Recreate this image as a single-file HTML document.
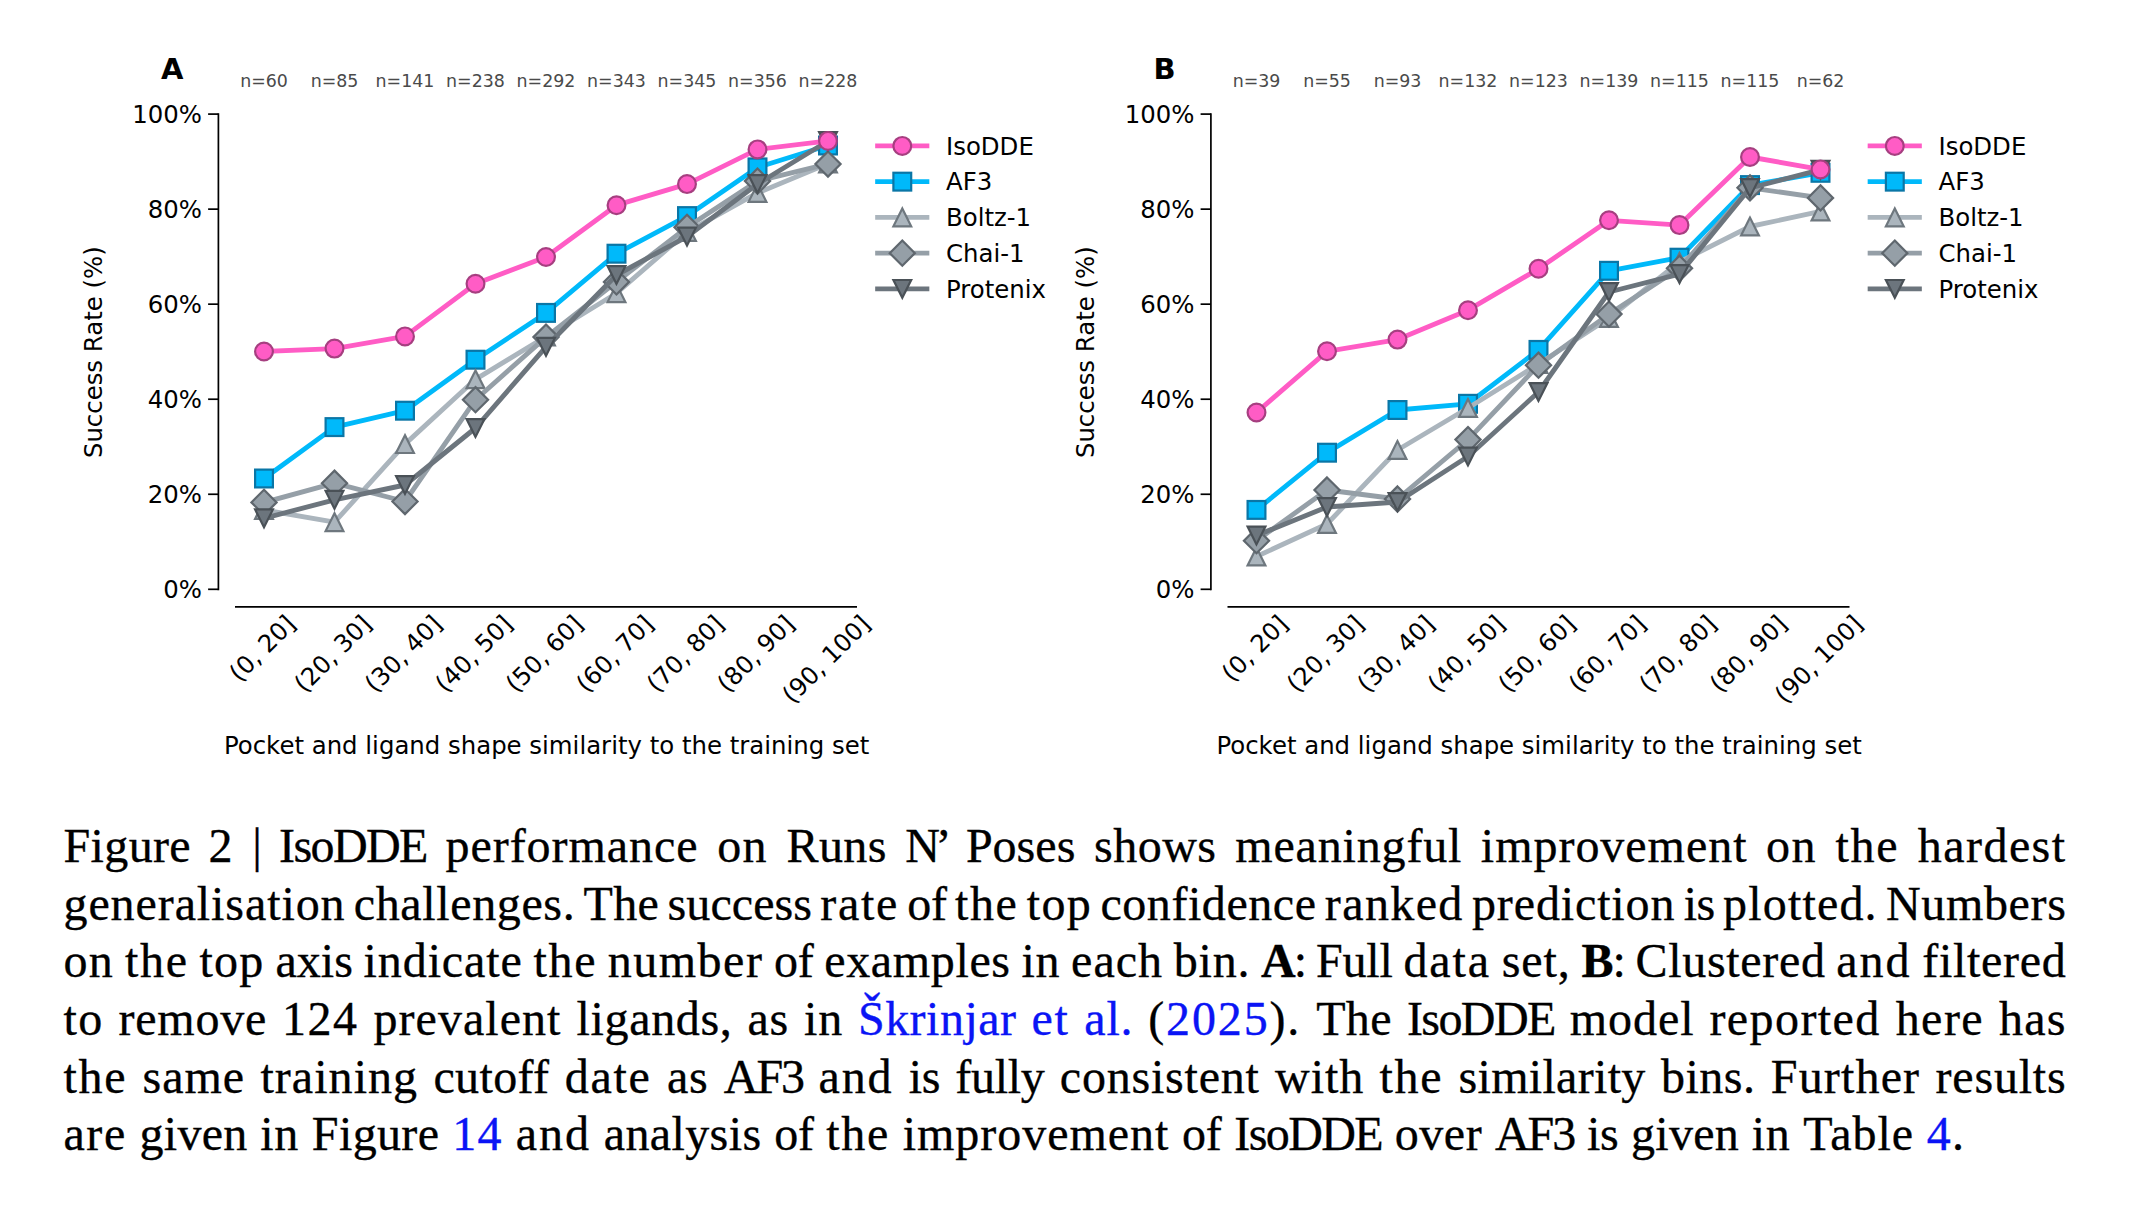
<!DOCTYPE html>
<html><head><meta charset="utf-8"><title>Figure 2</title>
<style>
html,body{margin:0;padding:0;background:#fff;}
body{width:2140px;height:1208px;position:relative;overflow:hidden;}
svg{position:absolute;left:0;top:0;}
.tl{font-family:'DejaVu Sans', 'Liberation Sans', sans-serif;font-size:24.4px;fill:#000;}
.nl{font-family:'DejaVu Sans', 'Liberation Sans', sans-serif;font-size:17.4px;fill:#4a4a4a;}
.pl{font-family:'DejaVu Sans', 'Liberation Sans', sans-serif;font-size:29px;font-weight:bold;fill:#000;}
.cl{position:absolute;left:0;width:2140px;height:0;font-family:'Liberation Serif',serif;font-size:48px;
 line-height:0;color:#000;-webkit-text-stroke:0.35px currentColor;white-space:pre;}
.cl>span{position:absolute;top:0;}
.lk{color:#0a14f5;}
b{font-weight:bold;}
</style></head>
<body>
<svg width="2140" height="800" viewBox="0 0 2140 800">
<line x1="218.4" y1="114.1" x2="218.4" y2="589.3" stroke="#000" stroke-width="1.7" stroke-linecap="square"/>
<line x1="235" y1="606.8" x2="857" y2="606.8" stroke="#000" stroke-width="1.7"/>
<line x1="208.1" y1="589.3" x2="218.4" y2="589.3" stroke="#000" stroke-width="1.7"/>
<text x="201.9" y="598.2" text-anchor="end" class="tl">0%</text>
<line x1="208.1" y1="494.26" x2="218.4" y2="494.26" stroke="#000" stroke-width="1.7"/>
<text x="201.9" y="503.16" text-anchor="end" class="tl">20%</text>
<line x1="208.1" y1="399.22" x2="218.4" y2="399.22" stroke="#000" stroke-width="1.7"/>
<text x="201.9" y="408.12" text-anchor="end" class="tl">40%</text>
<line x1="208.1" y1="304.18" x2="218.4" y2="304.18" stroke="#000" stroke-width="1.7"/>
<text x="201.9" y="313.08" text-anchor="end" class="tl">60%</text>
<line x1="208.1" y1="209.14" x2="218.4" y2="209.14" stroke="#000" stroke-width="1.7"/>
<text x="201.9" y="218.04" text-anchor="end" class="tl">80%</text>
<line x1="208.1" y1="114.1" x2="218.4" y2="114.1" stroke="#000" stroke-width="1.7"/>
<text x="201.9" y="123" text-anchor="end" class="tl">100%</text>
<text x="0" y="0" text-anchor="middle" class="tl" transform="translate(101.8 352.2) rotate(-90)">Success Rate (%)</text>
<text x="546.6" y="753.5" text-anchor="middle" class="tl">Pocket and ligand shape similarity to the training set</text>
<text x="161" y="78.6" class="pl">A</text>
<text x="264" y="86.6" text-anchor="middle" class="nl">n=60</text>
<text x="334.5" y="86.6" text-anchor="middle" class="nl">n=85</text>
<text x="405" y="86.6" text-anchor="middle" class="nl">n=141</text>
<text x="475.5" y="86.6" text-anchor="middle" class="nl">n=238</text>
<text x="546" y="86.6" text-anchor="middle" class="nl">n=292</text>
<text x="616.5" y="86.6" text-anchor="middle" class="nl">n=343</text>
<text x="687" y="86.6" text-anchor="middle" class="nl">n=345</text>
<text x="757.5" y="86.6" text-anchor="middle" class="nl">n=356</text>
<text x="828" y="86.6" text-anchor="middle" class="nl">n=228</text>
<text x="262" y="656.8" text-anchor="middle" class="tl" transform="rotate(-45 262 648.02)">(0, 20]</text>
<text x="332.5" y="662.29" text-anchor="middle" class="tl" transform="rotate(-45 332.5 653.5)">(20, 30]</text>
<text x="403" y="662.29" text-anchor="middle" class="tl" transform="rotate(-45 403 653.5)">(30, 40]</text>
<text x="473.5" y="662.29" text-anchor="middle" class="tl" transform="rotate(-45 473.5 653.5)">(40, 50]</text>
<text x="544" y="662.29" text-anchor="middle" class="tl" transform="rotate(-45 544 653.5)">(50, 60]</text>
<text x="614.5" y="662.29" text-anchor="middle" class="tl" transform="rotate(-45 614.5 653.5)">(60, 70]</text>
<text x="685" y="662.29" text-anchor="middle" class="tl" transform="rotate(-45 685 653.5)">(70, 80]</text>
<text x="755.5" y="662.29" text-anchor="middle" class="tl" transform="rotate(-45 755.5 653.5)">(80, 90]</text>
<text x="826" y="667.77" text-anchor="middle" class="tl" transform="rotate(-45 826 658.99)">(90, 100]</text>
<polyline points="264,478.5 334.5,427.1 405,410.7 475.5,359.7 546,312.9 616.5,253.7 687,216.1 757.5,167.4 828,145.5" fill="none" stroke="#00B9FA" stroke-width="4.86" stroke-linejoin="round" stroke-linecap="square"/>
<rect x="255.1" y="469.6" width="17.8" height="17.8" fill="#00B9FA" stroke="#0A76A6" stroke-width="2.2"/>
<rect x="325.6" y="418.2" width="17.8" height="17.8" fill="#00B9FA" stroke="#0A76A6" stroke-width="2.2"/>
<rect x="396.1" y="401.8" width="17.8" height="17.8" fill="#00B9FA" stroke="#0A76A6" stroke-width="2.2"/>
<rect x="466.6" y="350.8" width="17.8" height="17.8" fill="#00B9FA" stroke="#0A76A6" stroke-width="2.2"/>
<rect x="537.1" y="304" width="17.8" height="17.8" fill="#00B9FA" stroke="#0A76A6" stroke-width="2.2"/>
<rect x="607.6" y="244.8" width="17.8" height="17.8" fill="#00B9FA" stroke="#0A76A6" stroke-width="2.2"/>
<rect x="678.1" y="207.2" width="17.8" height="17.8" fill="#00B9FA" stroke="#0A76A6" stroke-width="2.2"/>
<rect x="748.6" y="158.5" width="17.8" height="17.8" fill="#00B9FA" stroke="#0A76A6" stroke-width="2.2"/>
<rect x="819.1" y="136.6" width="17.8" height="17.8" fill="#00B9FA" stroke="#0A76A6" stroke-width="2.2"/>
<polyline points="264,509.9 334.5,522.2 405,444.1 475.5,379.3 546,336.5 616.5,293.2 687,232 757.5,192.9 828,163.6" fill="none" stroke="#ABB5BD" stroke-width="4.86" stroke-linejoin="round" stroke-linecap="square"/>
<polygon points="264,501 255.1,518.8 272.9,518.8" fill="#ABB5BD" stroke="#6E777E" stroke-width="2.2" stroke-linejoin="miter" stroke-miterlimit="10"/>
<polygon points="334.5,513.3 325.6,531.1 343.4,531.1" fill="#ABB5BD" stroke="#6E777E" stroke-width="2.2" stroke-linejoin="miter" stroke-miterlimit="10"/>
<polygon points="405,435.2 396.1,453 413.9,453" fill="#ABB5BD" stroke="#6E777E" stroke-width="2.2" stroke-linejoin="miter" stroke-miterlimit="10"/>
<polygon points="475.5,370.4 466.6,388.2 484.4,388.2" fill="#ABB5BD" stroke="#6E777E" stroke-width="2.2" stroke-linejoin="miter" stroke-miterlimit="10"/>
<polygon points="546,327.6 537.1,345.4 554.9,345.4" fill="#ABB5BD" stroke="#6E777E" stroke-width="2.2" stroke-linejoin="miter" stroke-miterlimit="10"/>
<polygon points="616.5,284.3 607.6,302.1 625.4,302.1" fill="#ABB5BD" stroke="#6E777E" stroke-width="2.2" stroke-linejoin="miter" stroke-miterlimit="10"/>
<polygon points="687,223.1 678.1,240.9 695.9,240.9" fill="#ABB5BD" stroke="#6E777E" stroke-width="2.2" stroke-linejoin="miter" stroke-miterlimit="10"/>
<polygon points="757.5,184 748.6,201.8 766.4,201.8" fill="#ABB5BD" stroke="#6E777E" stroke-width="2.2" stroke-linejoin="miter" stroke-miterlimit="10"/>
<polygon points="828,154.7 819.1,172.5 836.9,172.5" fill="#ABB5BD" stroke="#6E777E" stroke-width="2.2" stroke-linejoin="miter" stroke-miterlimit="10"/>
<polyline points="264,502.4 334.5,483.2 405,501.5 475.5,399.7 546,337.1 616.5,281.9 687,227.3 757.5,181.1 828,164" fill="none" stroke="#959FA7" stroke-width="4.86" stroke-linejoin="round" stroke-linecap="square"/>
<polygon points="264,489.81 276.59,502.4 264,514.99 251.41,502.4" fill="#959FA7" stroke="#5F676E" stroke-width="2.2" stroke-linejoin="miter" stroke-miterlimit="10"/>
<polygon points="334.5,470.61 347.09,483.2 334.5,495.79 321.91,483.2" fill="#959FA7" stroke="#5F676E" stroke-width="2.2" stroke-linejoin="miter" stroke-miterlimit="10"/>
<polygon points="405,488.91 417.59,501.5 405,514.09 392.41,501.5" fill="#959FA7" stroke="#5F676E" stroke-width="2.2" stroke-linejoin="miter" stroke-miterlimit="10"/>
<polygon points="475.5,387.11 488.09,399.7 475.5,412.29 462.91,399.7" fill="#959FA7" stroke="#5F676E" stroke-width="2.2" stroke-linejoin="miter" stroke-miterlimit="10"/>
<polygon points="546,324.51 558.59,337.1 546,349.69 533.41,337.1" fill="#959FA7" stroke="#5F676E" stroke-width="2.2" stroke-linejoin="miter" stroke-miterlimit="10"/>
<polygon points="616.5,269.31 629.09,281.9 616.5,294.49 603.91,281.9" fill="#959FA7" stroke="#5F676E" stroke-width="2.2" stroke-linejoin="miter" stroke-miterlimit="10"/>
<polygon points="687,214.71 699.59,227.3 687,239.89 674.41,227.3" fill="#959FA7" stroke="#5F676E" stroke-width="2.2" stroke-linejoin="miter" stroke-miterlimit="10"/>
<polygon points="757.5,168.51 770.09,181.1 757.5,193.69 744.91,181.1" fill="#959FA7" stroke="#5F676E" stroke-width="2.2" stroke-linejoin="miter" stroke-miterlimit="10"/>
<polygon points="828,151.41 840.59,164 828,176.59 815.41,164" fill="#959FA7" stroke="#5F676E" stroke-width="2.2" stroke-linejoin="miter" stroke-miterlimit="10"/>
<polyline points="264,518.3 334.5,499.8 405,485 475.5,428 546,346.8 616.5,275 687,236.6 757.5,184 828,141" fill="none" stroke="#6C757D" stroke-width="4.86" stroke-linejoin="round" stroke-linecap="square"/>
<polygon points="264,527.2 255.1,509.4 272.9,509.4" fill="#6C757D" stroke="#4A5157" stroke-width="2.2" stroke-linejoin="miter" stroke-miterlimit="10"/>
<polygon points="334.5,508.7 325.6,490.9 343.4,490.9" fill="#6C757D" stroke="#4A5157" stroke-width="2.2" stroke-linejoin="miter" stroke-miterlimit="10"/>
<polygon points="405,493.9 396.1,476.1 413.9,476.1" fill="#6C757D" stroke="#4A5157" stroke-width="2.2" stroke-linejoin="miter" stroke-miterlimit="10"/>
<polygon points="475.5,436.9 466.6,419.1 484.4,419.1" fill="#6C757D" stroke="#4A5157" stroke-width="2.2" stroke-linejoin="miter" stroke-miterlimit="10"/>
<polygon points="546,355.7 537.1,337.9 554.9,337.9" fill="#6C757D" stroke="#4A5157" stroke-width="2.2" stroke-linejoin="miter" stroke-miterlimit="10"/>
<polygon points="616.5,283.9 607.6,266.1 625.4,266.1" fill="#6C757D" stroke="#4A5157" stroke-width="2.2" stroke-linejoin="miter" stroke-miterlimit="10"/>
<polygon points="687,245.5 678.1,227.7 695.9,227.7" fill="#6C757D" stroke="#4A5157" stroke-width="2.2" stroke-linejoin="miter" stroke-miterlimit="10"/>
<polygon points="757.5,192.9 748.6,175.1 766.4,175.1" fill="#6C757D" stroke="#4A5157" stroke-width="2.2" stroke-linejoin="miter" stroke-miterlimit="10"/>
<polygon points="828,149.9 819.1,132.1 836.9,132.1" fill="#6C757D" stroke="#4A5157" stroke-width="2.2" stroke-linejoin="miter" stroke-miterlimit="10"/>
<polyline points="264,351.5 334.5,348.6 405,336.4 475.5,283.7 546,257 616.5,205.2 687,184.1 757.5,149.4 828,140.9" fill="none" stroke="#FF5CC5" stroke-width="4.86" stroke-linejoin="round" stroke-linecap="square"/>
<circle cx="264" cy="351.5" r="8.9" fill="#FF5CC5" stroke="#A63F80" stroke-width="2.2"/>
<circle cx="334.5" cy="348.6" r="8.9" fill="#FF5CC5" stroke="#A63F80" stroke-width="2.2"/>
<circle cx="405" cy="336.4" r="8.9" fill="#FF5CC5" stroke="#A63F80" stroke-width="2.2"/>
<circle cx="475.5" cy="283.7" r="8.9" fill="#FF5CC5" stroke="#A63F80" stroke-width="2.2"/>
<circle cx="546" cy="257" r="8.9" fill="#FF5CC5" stroke="#A63F80" stroke-width="2.2"/>
<circle cx="616.5" cy="205.2" r="8.9" fill="#FF5CC5" stroke="#A63F80" stroke-width="2.2"/>
<circle cx="687" cy="184.1" r="8.9" fill="#FF5CC5" stroke="#A63F80" stroke-width="2.2"/>
<circle cx="757.5" cy="149.4" r="8.9" fill="#FF5CC5" stroke="#A63F80" stroke-width="2.2"/>
<circle cx="828" cy="140.9" r="8.9" fill="#FF5CC5" stroke="#A63F80" stroke-width="2.2"/>
<line x1="877.6" y1="145.9" x2="926.9" y2="145.9" stroke="#FF5CC5" stroke-width="4.86" stroke-linecap="square"/>
<circle cx="902.3" cy="145.9" r="8.9" fill="#FF5CC5" stroke="#A63F80" stroke-width="2.2"/>
<text x="946" y="154.7" class="tl">IsoDDE</text>
<line x1="877.6" y1="181.65" x2="926.9" y2="181.65" stroke="#00B9FA" stroke-width="4.86" stroke-linecap="square"/>
<rect x="893.4" y="172.75" width="17.8" height="17.8" fill="#00B9FA" stroke="#0A76A6" stroke-width="2.2"/>
<text x="946" y="190.45" class="tl">AF3</text>
<line x1="877.6" y1="217.4" x2="926.9" y2="217.4" stroke="#ABB5BD" stroke-width="4.86" stroke-linecap="square"/>
<polygon points="902.3,208.5 893.4,226.3 911.2,226.3" fill="#ABB5BD" stroke="#6E777E" stroke-width="2.2" stroke-linejoin="miter" stroke-miterlimit="10"/>
<text x="946" y="226.2" class="tl">Boltz-1</text>
<line x1="877.6" y1="253.15" x2="926.9" y2="253.15" stroke="#959FA7" stroke-width="4.86" stroke-linecap="square"/>
<polygon points="902.3,240.56 914.89,253.15 902.3,265.74 889.71,253.15" fill="#959FA7" stroke="#5F676E" stroke-width="2.2" stroke-linejoin="miter" stroke-miterlimit="10"/>
<text x="946" y="261.95" class="tl">Chai-1</text>
<line x1="877.6" y1="288.9" x2="926.9" y2="288.9" stroke="#6C757D" stroke-width="4.86" stroke-linecap="square"/>
<polygon points="902.3,297.8 893.4,280 911.2,280" fill="#6C757D" stroke="#4A5157" stroke-width="2.2" stroke-linejoin="miter" stroke-miterlimit="10"/>
<text x="946" y="297.7" class="tl">Protenix</text>
<line x1="1210.9" y1="114.1" x2="1210.9" y2="589.3" stroke="#000" stroke-width="1.7" stroke-linecap="square"/>
<line x1="1227.5" y1="606.8" x2="1849.5" y2="606.8" stroke="#000" stroke-width="1.7"/>
<line x1="1200.6" y1="589.3" x2="1210.9" y2="589.3" stroke="#000" stroke-width="1.7"/>
<text x="1194.4" y="598.2" text-anchor="end" class="tl">0%</text>
<line x1="1200.6" y1="494.26" x2="1210.9" y2="494.26" stroke="#000" stroke-width="1.7"/>
<text x="1194.4" y="503.16" text-anchor="end" class="tl">20%</text>
<line x1="1200.6" y1="399.22" x2="1210.9" y2="399.22" stroke="#000" stroke-width="1.7"/>
<text x="1194.4" y="408.12" text-anchor="end" class="tl">40%</text>
<line x1="1200.6" y1="304.18" x2="1210.9" y2="304.18" stroke="#000" stroke-width="1.7"/>
<text x="1194.4" y="313.08" text-anchor="end" class="tl">60%</text>
<line x1="1200.6" y1="209.14" x2="1210.9" y2="209.14" stroke="#000" stroke-width="1.7"/>
<text x="1194.4" y="218.04" text-anchor="end" class="tl">80%</text>
<line x1="1200.6" y1="114.1" x2="1210.9" y2="114.1" stroke="#000" stroke-width="1.7"/>
<text x="1194.4" y="123" text-anchor="end" class="tl">100%</text>
<text x="0" y="0" text-anchor="middle" class="tl" transform="translate(1094.3 352.2) rotate(-90)">Success Rate (%)</text>
<text x="1539.1" y="753.5" text-anchor="middle" class="tl">Pocket and ligand shape similarity to the training set</text>
<text x="1153.5" y="78.6" class="pl">B</text>
<text x="1256.5" y="86.6" text-anchor="middle" class="nl">n=39</text>
<text x="1327" y="86.6" text-anchor="middle" class="nl">n=55</text>
<text x="1397.5" y="86.6" text-anchor="middle" class="nl">n=93</text>
<text x="1468" y="86.6" text-anchor="middle" class="nl">n=132</text>
<text x="1538.5" y="86.6" text-anchor="middle" class="nl">n=123</text>
<text x="1609" y="86.6" text-anchor="middle" class="nl">n=139</text>
<text x="1679.5" y="86.6" text-anchor="middle" class="nl">n=115</text>
<text x="1750" y="86.6" text-anchor="middle" class="nl">n=115</text>
<text x="1820.5" y="86.6" text-anchor="middle" class="nl">n=62</text>
<text x="1254.5" y="656.8" text-anchor="middle" class="tl" transform="rotate(-45 1254.5 648.02)">(0, 20]</text>
<text x="1325" y="662.29" text-anchor="middle" class="tl" transform="rotate(-45 1325 653.5)">(20, 30]</text>
<text x="1395.5" y="662.29" text-anchor="middle" class="tl" transform="rotate(-45 1395.5 653.5)">(30, 40]</text>
<text x="1466" y="662.29" text-anchor="middle" class="tl" transform="rotate(-45 1466 653.5)">(40, 50]</text>
<text x="1536.5" y="662.29" text-anchor="middle" class="tl" transform="rotate(-45 1536.5 653.5)">(50, 60]</text>
<text x="1607" y="662.29" text-anchor="middle" class="tl" transform="rotate(-45 1607 653.5)">(60, 70]</text>
<text x="1677.5" y="662.29" text-anchor="middle" class="tl" transform="rotate(-45 1677.5 653.5)">(70, 80]</text>
<text x="1748" y="662.29" text-anchor="middle" class="tl" transform="rotate(-45 1748 653.5)">(80, 90]</text>
<text x="1818.5" y="667.77" text-anchor="middle" class="tl" transform="rotate(-45 1818.5 658.99)">(90, 100]</text>
<polyline points="1256.5,509.9 1327,452.7 1397.5,410 1468,403.8 1538.5,349.9 1609,270.8 1679.5,257.7 1750,185.1 1820.5,172.8" fill="none" stroke="#00B9FA" stroke-width="4.86" stroke-linejoin="round" stroke-linecap="square"/>
<rect x="1247.6" y="501" width="17.8" height="17.8" fill="#00B9FA" stroke="#0A76A6" stroke-width="2.2"/>
<rect x="1318.1" y="443.8" width="17.8" height="17.8" fill="#00B9FA" stroke="#0A76A6" stroke-width="2.2"/>
<rect x="1388.6" y="401.1" width="17.8" height="17.8" fill="#00B9FA" stroke="#0A76A6" stroke-width="2.2"/>
<rect x="1459.1" y="394.9" width="17.8" height="17.8" fill="#00B9FA" stroke="#0A76A6" stroke-width="2.2"/>
<rect x="1529.6" y="341" width="17.8" height="17.8" fill="#00B9FA" stroke="#0A76A6" stroke-width="2.2"/>
<rect x="1600.1" y="261.9" width="17.8" height="17.8" fill="#00B9FA" stroke="#0A76A6" stroke-width="2.2"/>
<rect x="1670.6" y="248.8" width="17.8" height="17.8" fill="#00B9FA" stroke="#0A76A6" stroke-width="2.2"/>
<rect x="1741.1" y="176.2" width="17.8" height="17.8" fill="#00B9FA" stroke="#0A76A6" stroke-width="2.2"/>
<rect x="1811.6" y="163.9" width="17.8" height="17.8" fill="#00B9FA" stroke="#0A76A6" stroke-width="2.2"/>
<polyline points="1256.5,556.5 1327,524 1397.5,450 1468,408 1538.5,364 1609,318 1679.5,262 1750,226.5 1820.5,211.5" fill="none" stroke="#ABB5BD" stroke-width="4.86" stroke-linejoin="round" stroke-linecap="square"/>
<polygon points="1256.5,547.6 1247.6,565.4 1265.4,565.4" fill="#ABB5BD" stroke="#6E777E" stroke-width="2.2" stroke-linejoin="miter" stroke-miterlimit="10"/>
<polygon points="1327,515.1 1318.1,532.9 1335.9,532.9" fill="#ABB5BD" stroke="#6E777E" stroke-width="2.2" stroke-linejoin="miter" stroke-miterlimit="10"/>
<polygon points="1397.5,441.1 1388.6,458.9 1406.4,458.9" fill="#ABB5BD" stroke="#6E777E" stroke-width="2.2" stroke-linejoin="miter" stroke-miterlimit="10"/>
<polygon points="1468,399.1 1459.1,416.9 1476.9,416.9" fill="#ABB5BD" stroke="#6E777E" stroke-width="2.2" stroke-linejoin="miter" stroke-miterlimit="10"/>
<polygon points="1538.5,355.1 1529.6,372.9 1547.4,372.9" fill="#ABB5BD" stroke="#6E777E" stroke-width="2.2" stroke-linejoin="miter" stroke-miterlimit="10"/>
<polygon points="1609,309.1 1600.1,326.9 1617.9,326.9" fill="#ABB5BD" stroke="#6E777E" stroke-width="2.2" stroke-linejoin="miter" stroke-miterlimit="10"/>
<polygon points="1679.5,253.1 1670.6,270.9 1688.4,270.9" fill="#ABB5BD" stroke="#6E777E" stroke-width="2.2" stroke-linejoin="miter" stroke-miterlimit="10"/>
<polygon points="1750,217.6 1741.1,235.4 1758.9,235.4" fill="#ABB5BD" stroke="#6E777E" stroke-width="2.2" stroke-linejoin="miter" stroke-miterlimit="10"/>
<polygon points="1820.5,202.6 1811.6,220.4 1829.4,220.4" fill="#ABB5BD" stroke="#6E777E" stroke-width="2.2" stroke-linejoin="miter" stroke-miterlimit="10"/>
<polyline points="1256.5,540.7 1327,490 1397.5,499 1468,439.6 1538.5,365.2 1609,314.1 1679.5,268.3 1750,187.8 1820.5,197.9" fill="none" stroke="#959FA7" stroke-width="4.86" stroke-linejoin="round" stroke-linecap="square"/>
<polygon points="1256.5,528.11 1269.09,540.7 1256.5,553.29 1243.91,540.7" fill="#959FA7" stroke="#5F676E" stroke-width="2.2" stroke-linejoin="miter" stroke-miterlimit="10"/>
<polygon points="1327,477.41 1339.59,490 1327,502.59 1314.41,490" fill="#959FA7" stroke="#5F676E" stroke-width="2.2" stroke-linejoin="miter" stroke-miterlimit="10"/>
<polygon points="1397.5,486.41 1410.09,499 1397.5,511.59 1384.91,499" fill="#959FA7" stroke="#5F676E" stroke-width="2.2" stroke-linejoin="miter" stroke-miterlimit="10"/>
<polygon points="1468,427.01 1480.59,439.6 1468,452.19 1455.41,439.6" fill="#959FA7" stroke="#5F676E" stroke-width="2.2" stroke-linejoin="miter" stroke-miterlimit="10"/>
<polygon points="1538.5,352.61 1551.09,365.2 1538.5,377.79 1525.91,365.2" fill="#959FA7" stroke="#5F676E" stroke-width="2.2" stroke-linejoin="miter" stroke-miterlimit="10"/>
<polygon points="1609,301.51 1621.59,314.1 1609,326.69 1596.41,314.1" fill="#959FA7" stroke="#5F676E" stroke-width="2.2" stroke-linejoin="miter" stroke-miterlimit="10"/>
<polygon points="1679.5,255.71 1692.09,268.3 1679.5,280.89 1666.91,268.3" fill="#959FA7" stroke="#5F676E" stroke-width="2.2" stroke-linejoin="miter" stroke-miterlimit="10"/>
<polygon points="1750,175.21 1762.59,187.8 1750,200.39 1737.41,187.8" fill="#959FA7" stroke="#5F676E" stroke-width="2.2" stroke-linejoin="miter" stroke-miterlimit="10"/>
<polygon points="1820.5,185.31 1833.09,197.9 1820.5,210.49 1807.91,197.9" fill="#959FA7" stroke="#5F676E" stroke-width="2.2" stroke-linejoin="miter" stroke-miterlimit="10"/>
<polyline points="1256.5,535.5 1327,507 1397.5,502 1468,456.5 1538.5,392 1609,292 1679.5,274.1 1750,188 1820.5,169.7" fill="none" stroke="#6C757D" stroke-width="4.86" stroke-linejoin="round" stroke-linecap="square"/>
<polygon points="1256.5,544.4 1247.6,526.6 1265.4,526.6" fill="#6C757D" stroke="#4A5157" stroke-width="2.2" stroke-linejoin="miter" stroke-miterlimit="10"/>
<polygon points="1327,515.9 1318.1,498.1 1335.9,498.1" fill="#6C757D" stroke="#4A5157" stroke-width="2.2" stroke-linejoin="miter" stroke-miterlimit="10"/>
<polygon points="1397.5,510.9 1388.6,493.1 1406.4,493.1" fill="#6C757D" stroke="#4A5157" stroke-width="2.2" stroke-linejoin="miter" stroke-miterlimit="10"/>
<polygon points="1468,465.4 1459.1,447.6 1476.9,447.6" fill="#6C757D" stroke="#4A5157" stroke-width="2.2" stroke-linejoin="miter" stroke-miterlimit="10"/>
<polygon points="1538.5,400.9 1529.6,383.1 1547.4,383.1" fill="#6C757D" stroke="#4A5157" stroke-width="2.2" stroke-linejoin="miter" stroke-miterlimit="10"/>
<polygon points="1609,300.9 1600.1,283.1 1617.9,283.1" fill="#6C757D" stroke="#4A5157" stroke-width="2.2" stroke-linejoin="miter" stroke-miterlimit="10"/>
<polygon points="1679.5,283 1670.6,265.2 1688.4,265.2" fill="#6C757D" stroke="#4A5157" stroke-width="2.2" stroke-linejoin="miter" stroke-miterlimit="10"/>
<polygon points="1750,196.9 1741.1,179.1 1758.9,179.1" fill="#6C757D" stroke="#4A5157" stroke-width="2.2" stroke-linejoin="miter" stroke-miterlimit="10"/>
<polygon points="1820.5,178.6 1811.6,160.8 1829.4,160.8" fill="#6C757D" stroke="#4A5157" stroke-width="2.2" stroke-linejoin="miter" stroke-miterlimit="10"/>
<polyline points="1256.5,412.5 1327,351.3 1397.5,339.6 1468,310.2 1538.5,268.8 1609,220.3 1679.5,225.1 1750,157 1820.5,169.4" fill="none" stroke="#FF5CC5" stroke-width="4.86" stroke-linejoin="round" stroke-linecap="square"/>
<circle cx="1256.5" cy="412.5" r="8.9" fill="#FF5CC5" stroke="#A63F80" stroke-width="2.2"/>
<circle cx="1327" cy="351.3" r="8.9" fill="#FF5CC5" stroke="#A63F80" stroke-width="2.2"/>
<circle cx="1397.5" cy="339.6" r="8.9" fill="#FF5CC5" stroke="#A63F80" stroke-width="2.2"/>
<circle cx="1468" cy="310.2" r="8.9" fill="#FF5CC5" stroke="#A63F80" stroke-width="2.2"/>
<circle cx="1538.5" cy="268.8" r="8.9" fill="#FF5CC5" stroke="#A63F80" stroke-width="2.2"/>
<circle cx="1609" cy="220.3" r="8.9" fill="#FF5CC5" stroke="#A63F80" stroke-width="2.2"/>
<circle cx="1679.5" cy="225.1" r="8.9" fill="#FF5CC5" stroke="#A63F80" stroke-width="2.2"/>
<circle cx="1750" cy="157" r="8.9" fill="#FF5CC5" stroke="#A63F80" stroke-width="2.2"/>
<circle cx="1820.5" cy="169.4" r="8.9" fill="#FF5CC5" stroke="#A63F80" stroke-width="2.2"/>
<line x1="1870.1" y1="145.9" x2="1919.4" y2="145.9" stroke="#FF5CC5" stroke-width="4.86" stroke-linecap="square"/>
<circle cx="1894.8" cy="145.9" r="8.9" fill="#FF5CC5" stroke="#A63F80" stroke-width="2.2"/>
<text x="1938.5" y="154.7" class="tl">IsoDDE</text>
<line x1="1870.1" y1="181.65" x2="1919.4" y2="181.65" stroke="#00B9FA" stroke-width="4.86" stroke-linecap="square"/>
<rect x="1885.9" y="172.75" width="17.8" height="17.8" fill="#00B9FA" stroke="#0A76A6" stroke-width="2.2"/>
<text x="1938.5" y="190.45" class="tl">AF3</text>
<line x1="1870.1" y1="217.4" x2="1919.4" y2="217.4" stroke="#ABB5BD" stroke-width="4.86" stroke-linecap="square"/>
<polygon points="1894.8,208.5 1885.9,226.3 1903.7,226.3" fill="#ABB5BD" stroke="#6E777E" stroke-width="2.2" stroke-linejoin="miter" stroke-miterlimit="10"/>
<text x="1938.5" y="226.2" class="tl">Boltz-1</text>
<line x1="1870.1" y1="253.15" x2="1919.4" y2="253.15" stroke="#959FA7" stroke-width="4.86" stroke-linecap="square"/>
<polygon points="1894.8,240.56 1907.39,253.15 1894.8,265.74 1882.21,253.15" fill="#959FA7" stroke="#5F676E" stroke-width="2.2" stroke-linejoin="miter" stroke-miterlimit="10"/>
<text x="1938.5" y="261.95" class="tl">Chai-1</text>
<line x1="1870.1" y1="288.9" x2="1919.4" y2="288.9" stroke="#6C757D" stroke-width="4.86" stroke-linecap="square"/>
<polygon points="1894.8,297.8 1885.9,280 1903.7,280" fill="#6C757D" stroke="#4A5157" stroke-width="2.2" stroke-linejoin="miter" stroke-miterlimit="10"/>
<text x="1938.5" y="297.7" class="tl">Protenix</text>
</svg>
<div class="cl" style="top:846.2px"><span style="left:63.5px;letter-spacing:0.37px">Figure</span><span style="left:208.5px;letter-spacing:1.49px">2</span><span style="left:252.2px;letter-spacing:0px">|</span><span style="left:279px;letter-spacing:-1.58px">IsoDDE</span><span style="left:445.48px;letter-spacing:0.96px">performance</span><span style="left:717.22px;letter-spacing:1.37px">on</span><span style="left:786.61px;letter-spacing:0.34px">Runs</span><span style="left:905.33px;letter-spacing:-4.38px">N’</span><span style="left:965.88px;letter-spacing:0.02px">Poses</span><span style="left:1093.99px;letter-spacing:0.51px">shows</span><span style="left:1235.22px;letter-spacing:0.84px">meaningful</span><span style="left:1480.87px;letter-spacing:0.97px">improvement</span><span style="left:1766.12px;letter-spacing:1.37px">on</span><span style="left:1835.52px;letter-spacing:1.68px">the</span><span style="left:1917.84px;letter-spacing:1.44px">hardest</span></div>
<div class="cl" style="top:903.8px"><span style="left:63.5px;letter-spacing:0.91px">generalisation</span><span style="left:353.79px;letter-spacing:0.63px">challenges.</span><span style="left:583.57px;letter-spacing:0.37px">The</span><span style="left:667.58px;letter-spacing:0.08px">success</span><span style="left:820.35px;letter-spacing:1.66px">rate</span><span style="left:907.2px;letter-spacing:-0.28px">of</span><span style="left:954.9px;letter-spacing:1.68px">the</span><span style="left:1026.85px;letter-spacing:1.31px">top</span><span style="left:1100.41px;letter-spacing:0.56px">confidence</span><span style="left:1324.83px;letter-spacing:1.38px">ranked</span><span style="left:1472px;letter-spacing:0.87px">prediction</span><span style="left:1683.63px;letter-spacing:-0.42px">is</span><span style="left:1723.08px;letter-spacing:1.17px">plotted.</span><span style="left:1886.03px;letter-spacing:0.64px">Numbers</span></div>
<div class="cl" style="top:961.4px"><span style="left:63.5px;letter-spacing:1.37px">on</span><span style="left:124.98px;letter-spacing:1.68px">the</span><span style="left:199.39px;letter-spacing:1.31px">top</span><span style="left:275.4px;letter-spacing:0.04px">axis</span><span style="left:363.6px;letter-spacing:0.9px">indicate</span><span style="left:533.45px;letter-spacing:1.68px">the</span><span style="left:607.85px;letter-spacing:1.48px">number</span><span style="left:774.08px;letter-spacing:-0.28px">of</span><span style="left:824.24px;letter-spacing:0.65px">examples</span><span style="left:1021.45px;letter-spacing:0.77px">in</span><span style="left:1071.06px;letter-spacing:1.03px">each</span><span style="left:1173.84px;letter-spacing:0.75px">bin.</span><span style="left:1260.9px;letter-spacing:-1.77px"><b>A</b>:</span><span style="left:1316.09px;letter-spacing:-0.2px">Full</span><span style="left:1403.38px;letter-spacing:1.94px">data</span><span style="left:1501.81px;letter-spacing:0.89px">set,</span><span style="left:1581.44px;letter-spacing:-0.97px"><b>B</b>:</span><span style="left:1635.59px;letter-spacing:0.68px">Clustered</span><span style="left:1836.37px;letter-spacing:1.96px">and</span><span style="left:1922.29px;letter-spacing:0.7px">filtered</span></div>
<div class="cl" style="top:1019px"><span style="left:63.5px;letter-spacing:1.34px">to</span><span style="left:118.53px;letter-spacing:0.77px">remove</span><span style="left:282.06px;letter-spacing:1.49px">124</span><span style="left:373.53px;letter-spacing:1.04px">prevalent</span><span style="left:576.49px;letter-spacing:0.67px">ligands,</span><span style="left:747.49px;letter-spacing:0.8px">as</span><span style="left:804.08px;letter-spacing:0.77px">in</span><span style="left:857.97px;letter-spacing:0.48px"><span class="lk">Škrinjar</span></span><span style="left:1031.49px;letter-spacing:1.59px"><span class="lk">et</span></span><span style="left:1084.32px;letter-spacing:0.76px"><span class="lk">al.</span></span><span style="left:1148.24px;letter-spacing:1.85px">(<span class="lk">2025</span>).</span><span style="left:1316.18px;letter-spacing:0.37px">The</span><span style="left:1406.91px;letter-spacing:-1.58px">IsoDDE</span><span style="left:1569.76px;letter-spacing:0.94px">model</span><span style="left:1709.46px;letter-spacing:1.41px">reported</span><span style="left:1895.68px;letter-spacing:1.45px">here</span><span style="left:1999.07px;letter-spacing:1.15px">has</span></div>
<div class="cl" style="top:1076.6px"><span style="left:63.5px;letter-spacing:1.68px">the</span><span style="left:142.43px;letter-spacing:1.03px">same</span><span style="left:260.41px;letter-spacing:1.06px">training</span><span style="left:433.45px;letter-spacing:0.37px">cutoff</span><span style="left:564.69px;letter-spacing:1.75px">date</span><span style="left:666.9px;letter-spacing:0.8px">as</span><span style="left:723.74px;letter-spacing:-1.99px">AF3</span><span style="left:818.39px;letter-spacing:1.96px">and</span><span style="left:908.82px;letter-spacing:-0.42px">is</span><span style="left:955.25px;letter-spacing:-0.26px">fully</span><span style="left:1059.85px;letter-spacing:0.79px">consistent</span><span style="left:1274.97px;letter-spacing:1px">with</span><span style="left:1379.57px;letter-spacing:1.68px">the</span><span style="left:1458.5px;letter-spacing:0.32px">similarity</span><span style="left:1660.92px;letter-spacing:0.53px">bins.</span><span style="left:1770.84px;letter-spacing:1.16px">Further</span><span style="left:1935.49px;letter-spacing:0.81px">results</span></div>
<div class="cl" style="top:1134.2px"><span style="left:63.5px;letter-spacing:1.56px">are</span><span style="left:139.5px;letter-spacing:0.27px">given</span><span style="left:260.25px;letter-spacing:0.77px">in</span><span style="left:311.86px;letter-spacing:0.37px">Figure</span><span style="left:452.13px;letter-spacing:1.49px"><span class="lk">14</span></span><span style="left:515.85px;letter-spacing:1.96px">and</span><span style="left:603.77px;letter-spacing:0.38px">analysis</span><span style="left:774.16px;letter-spacing:-0.28px">of</span><span style="left:826.32px;letter-spacing:1.68px">the</span><span style="left:902.74px;letter-spacing:0.97px">improvement</span><span style="left:1182.09px;letter-spacing:-0.28px">of</span><span style="left:1234.25px;letter-spacing:-1.58px">IsoDDE</span><span style="left:1394.83px;letter-spacing:0.52px">over</span><span style="left:1494.95px;letter-spacing:-1.99px">AF3</span><span style="left:1587.08px;letter-spacing:-0.42px">is</span><span style="left:1631px;letter-spacing:0.27px">given</span><span style="left:1751.74px;letter-spacing:0.77px">in</span><span style="left:1803.36px;letter-spacing:0.97px">Table</span><span style="left:1926.85px;letter-spacing:1.12px"><span class="lk">4</span>.</span></div>
</body></html>
